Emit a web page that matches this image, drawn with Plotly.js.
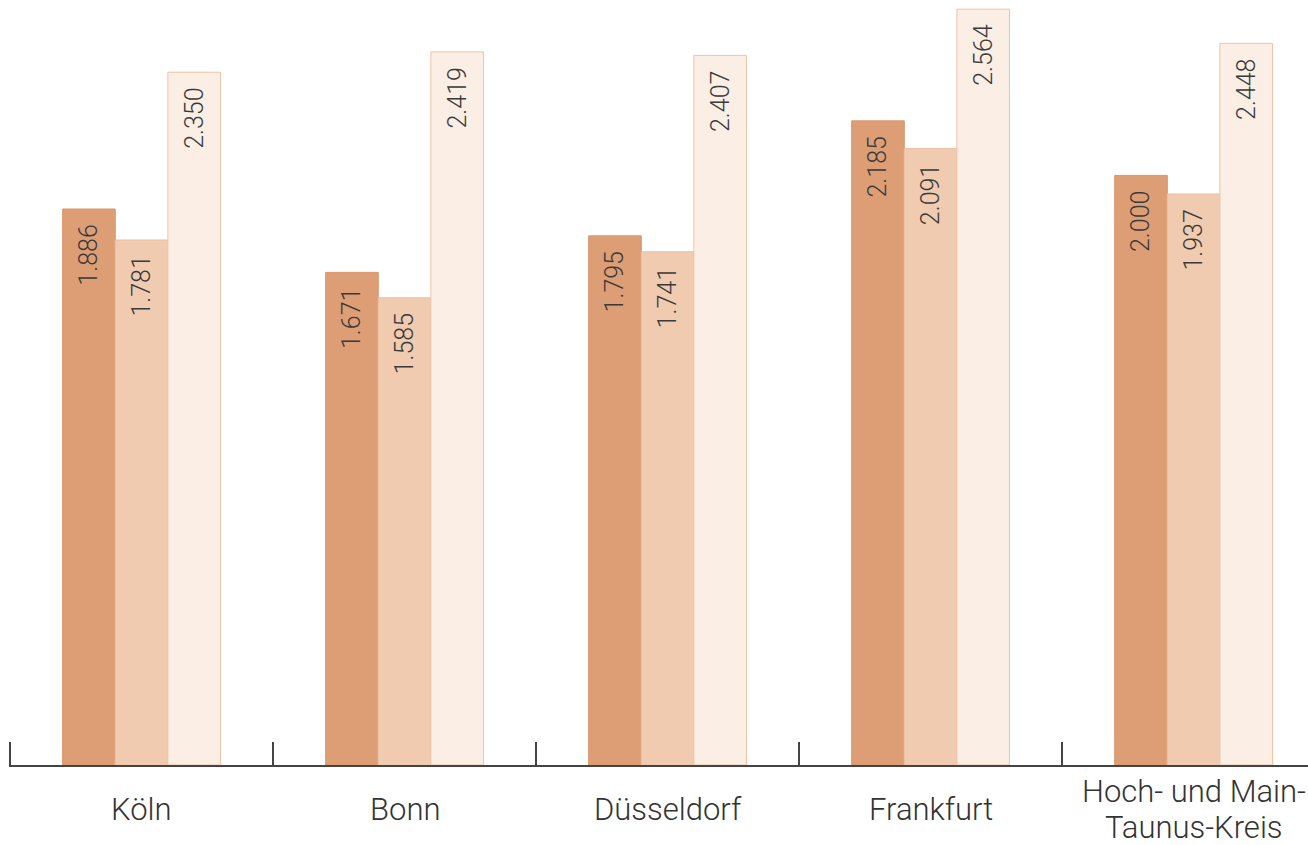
<!DOCTYPE html>
<html>
<head>
<meta charset="utf-8">
<script src="https://cdn.plot.ly/plotly-3.0.1.min.js"></script>
<style>
  html, body { margin: 0; padding: 0; background: #ffffff; }
  #chart { width: 1308px; height: 845px; }
</style>
</head>
<body>
<div id="chart"></div>
<script>
const categories = ['Köln', 'Bonn', 'Düsseldorf', 'Frankfurt', 'Hoch- und Main-<br>Taunus-Kreis'];
const series1 = [1886, 1671, 1795, 2185, 2000];
const series2 = [1781, 1585, 1741, 2091, 1937];
const series3 = [2350, 2419, 2407, 2564, 2448];

const fills = ['#DE9E75', '#F1CBB0', '#FAEEE5'];
const edges = ['#D99569', '#EBC0A2', '#F1C3A4'];
const allSeries = [series1, series2, series3];

const fontFamily = 'Roboto, "Liberation Sans", Arial, sans-serif';
const xIdx = categories.map((c, i) => i);

const traces = allSeries.map((vals, k) => ({
  type: 'bar',
  x: xIdx,
  y: vals,
  name: 'Serie ' + (k + 1),
  marker: { color: fills[k], line: { color: edges[k], width: 1 } },
  texttemplate: '%{y:,}\u00a0\u00a0',
  textposition: 'inside',
  insidetextanchor: 'end',
  textangle: -90,
  insidetextfont: { family: fontFamily, size: 25, color: '#3a3a3a', weight: 300 },
  hoverinfo: 'skip'
}));

const annotations = [];
categories.forEach((c, i) => {
  const lines = c.split('<br>');
  const n = lines.length;
  lines.forEach((line, j) => {
    annotations.push({
      x: i, xref: 'x',
      y: 0, yref: 'paper',
      yshift: -44 - (j - (n - 1) / 2) * 36,
      yanchor: 'middle',
      xanchor: 'center',
      text: line,
      showarrow: false,
      font: { family: fontFamily, size: 31, color: '#333333', weight: 300 }
    });
  });
});

const layout = {
  width: 1308,
  height: 845,
  margin: { l: 9, r: 0, t: 0, b: 80 },
  paper_bgcolor: '#ffffff',
  plot_bgcolor: '#ffffff',
  separators: ',.',
  barmode: 'group',
  bargap: 0.4,
  bargroupgap: 0,
  showlegend: false,
  xaxis: {
    type: 'linear',
    range: [-0.504, 4.435],
    tickmode: 'array',
    tickvals: [-0.5, 0.5, 1.5, 2.5, 3.5],
    ticktext: ['', '', '', '', ''],
    ticks: 'inside',
    ticklen: 23,
    tickwidth: 1.5,
    tickcolor: '#444444',
    showline: true,
    linecolor: '#444444',
    linewidth: 1.5,
    showgrid: false,
    zeroline: false,
    fixedrange: true
  },
  yaxis: {
    range: [0, 2595],
    visible: false,
    showgrid: false,
    zeroline: false,
    fixedrange: true
  },
  annotations: annotations
};

Plotly.newPlot('chart', traces, layout, { displayModeBar: false, staticPlot: true });
</script>
</body>
</html>
